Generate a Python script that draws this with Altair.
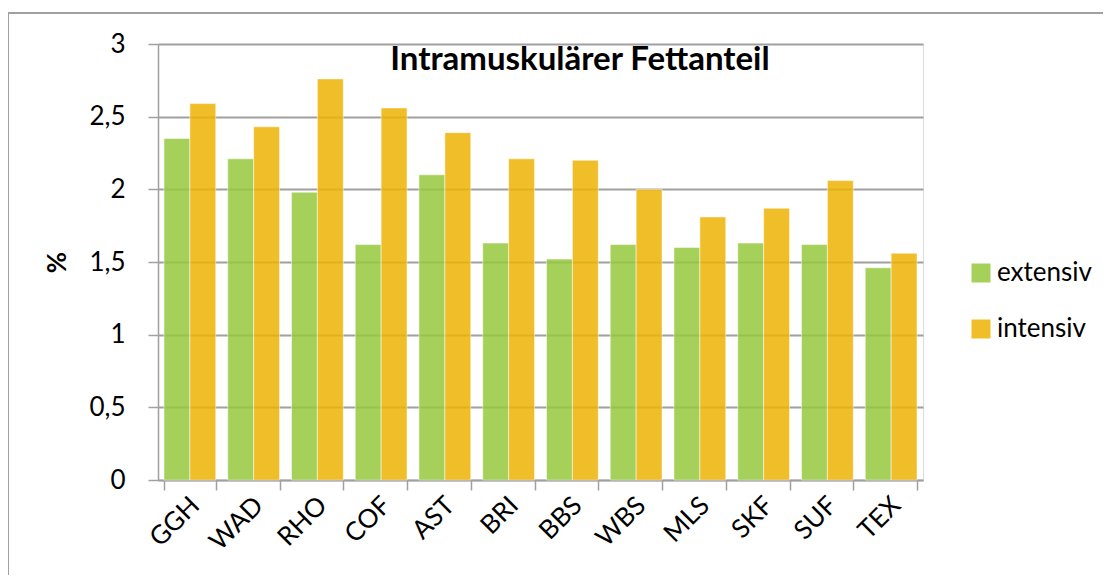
import altair as alt
import pandas as pd

categories = ["GGH", "WAD", "RHO", "COF", "AST", "BRI", "BBS", "WBS", "MLS", "SKF", "SUF", "TEX"]
extensiv = [2.35, 2.21, 1.98, 1.62, 2.10, 1.63, 1.52, 1.62, 1.60, 1.63, 1.62, 1.46]
intensiv = [2.59, 2.43, 2.76, 2.56, 2.39, 2.21, 2.20, 2.00, 1.81, 1.87, 2.06, 1.56]
series = ["extensiv", "intensiv"]
colors = ["#95C93D", "#EDB302"]
y_ticks = [0, 0.5, 1, 1.5, 2, 2.5, 3]
title_text = "Intramuskulärer Fettanteil"

rows = []
for c, e, i in zip(categories, extensiv, intensiv):
    rows.append({"cat": c, "series": "extensiv", "value": e})
    rows.append({"cat": c, "series": "intensiv", "value": i})
df = pd.DataFrame(rows)

FONT = "Lato"
W, H = 765, 436
GRID = "#A0A0A0"
FS = 26

border = alt.Chart(pd.DataFrame({"a": [0]})).mark_rect(
    fillOpacity=0, stroke=GRID, strokeWidth=2, clip=False
).encode(
    x=alt.value(-150), x2=alt.value(1100), y=alt.value(-31), y2=alt.value(700)
)

bars = alt.Chart(df).mark_bar(
    fillOpacity=0.85, stroke="white", strokeOpacity=0.5, strokeWidth=1
).encode(
    x=alt.X(
        "cat:N", sort=categories,
        scale=alt.Scale(paddingInner=0.1875, paddingOuter=0.09375),
        axis=alt.Axis(
            title=None, labelAngle=-45, labelAlign="right", labelBaseline="middle",
            labelFontSize=FS, labelFont=FONT, labelColor="black", labelPadding=11,
            labelOffset=5,
            tickBand="extent", tickSize=10, tickColor=GRID, tickWidth=1.5,
            domainColor=GRID, domainWidth=1.5, grid=False,
        ),
    ),
    xOffset=alt.XOffset("series:N", sort=series),
    y=alt.Y(
        "value:Q", scale=alt.Scale(domain=[0, 3], nice=False),
        axis=alt.Axis(
            values=y_ticks, title="%", titleFont=FONT, titleFontSize=26,
            titleFontWeight="bold", titleColor="black", titleAngle=-90,
            titleX=-88, titleY=218, titleAlign="center", titleBaseline="bottom",
            labelExpr="replace(toString(datum.value), '.', ',')",
            labelFont=FONT, labelFontSize=FS, labelColor="black", labelPadding=23,
            tickSize=10, tickColor=GRID, tickWidth=1.5, domainColor=GRID, domainWidth=1.5,
            grid=True, gridColor=GRID, gridWidth=2,
        ),
    ),
    color=alt.Color(
        "series:N", scale=alt.Scale(domain=series, range=colors),
        legend=alt.Legend(
            title=None, orient="none", legendX=810, legendY=216,
            symbolType="square", symbolSize=361, symbolStrokeWidth=0,
            symbolOpacity=0.85, labelFont=FONT, labelFontSize=FS,
            labelColor="black", labelOffset=3, rowPadding=30, padding=0,
        ),
    ),
)

title = alt.Chart(pd.DataFrame({"t": [title_text]})).mark_text(
    font=FONT, fontSize=33, fontWeight="bold", color="black",
    align="center", baseline="alphabetic", clip=False,
).encode(text="t:N", x=alt.value(422), y=alt.value(26))

chart = alt.layer(border, bars, title).properties(
    width=W, height=H,
    autosize=alt.AutoSizeParams(type="none"),
    padding={"left": 150, "top": 36, "right": 180, "bottom": 95},
).configure_view(stroke=None).configure(background="white")

chart.save("out.html", embed_options={"renderer": "svg", "actions": False})
